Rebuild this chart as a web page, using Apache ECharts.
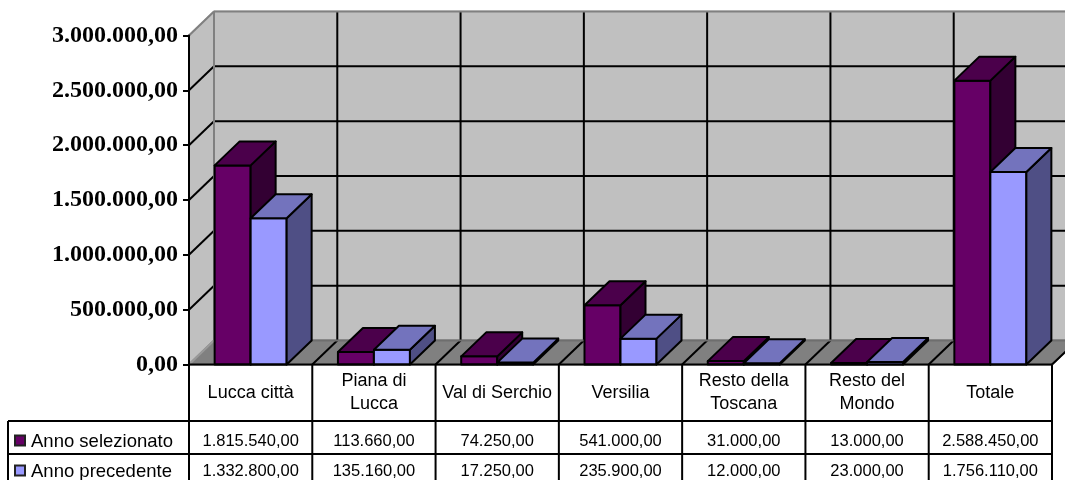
<!DOCTYPE html>
<html><head><meta charset="utf-8">
<style>html,body{margin:0;padding:0;background:#fff;overflow:hidden}#c{width:1065px;height:480px}</style>
<script src="https://cdn.jsdelivr.net/npm/echarts@6/dist/echarts.min.js"></script>
</head><body><div id="c"></div>
<script>
const categories = ['Lucca città','Piana di\nLucca','Val di Serchio','Versilia','Resto della\nToscana','Resto del\nMondo','Totale'];
const annoSelezionato = [1815540,113660,74250,541000,31000,13000,2588450];
const annoPrecedente = [1332800,135160,17250,235900,12000,23000,1756110];
const seriesNames = ['Anno selezionato','Anno precedente'];
const tickValues = [0,500000,1000000,1500000,2000000,2500000,3000000];

const fmt = v => v.toFixed(2).replace('.',',').replace(/\B(?=(\d{3})+(?!\d))/g,'.');
const DX = 25, DY = -24;
const palette = [
  {front:'#660066', top:'#4b004b', side:'#330033'},
  {front:'#9999ff', top:'#7373bd', side:'#4f4f85'}
];
const SANS_FAMILY = '"Liberation Sans", Arial, sans-serif';
const line = (x1,y1,x2,y2,stroke,w) => ({type:'line',shape:{x1,y1,x2,y2},style:{stroke,lineWidth:w||2}});
const poly = (pts,fill,stroke) => ({type:'polygon',shape:{points:pts},style:{fill,stroke:stroke||'#000',lineWidth:2,lineJoin:'round'}});
const text = (t,x,y,align,size) => ({type:'text',style:{text:t,x,y,fill:'#000',font:(size||16.5)+'px '+SANS_FAMILY,align:align||'center',verticalAlign:'middle'}});

function renderScene(params, api){
  const o = api.coord([0,0]), w = api.size([1,0])[0];
  const x0 = o[0]-w/2, y0 = o[1], n = categories.length;
  const x1 = x0+w*n, yT = api.coord([0,3000000])[1];
  const kids = [];
  kids.push(poly([[x0,y0],[x0+DX,y0+DY],[x0+DX,yT+DY],[x0,yT]],'#c0c0c0','#c0c0c0'));
  kids.push(poly([[x0+DX,y0+DY],[x1+DX,y0+DY],[x1+DX,yT+DY],[x0+DX,yT+DY]],'#c0c0c0','#c0c0c0'));
  kids.push(poly([[x0,y0],[x1,y0],[x1+DX,y0+DY],[x0+DX,y0+DY]],'#808080','#808080'));
  tickValues.forEach(v=>{
    const y = api.coord([0,v])[1];
    if(v>0 && v<3000000){
      kids.push(line(x0+DX,y+DY,x1+DX,y+DY,'#000'));
      kids.push(line(x0,y,x0+DX,y+DY,'#000'));
    }
  });
  for(let i=1;i<=n;i++){
    const x = x0+w*i;
    if(i<n) kids.push(line(x+DX,yT+DY,x+DX,y0+DY,'#000'));
    kids.push(line(x,y0,x+DX,y0+DY,'#000'));
  }
  kids.push(line(x0+DX,yT+DY,x1+DX,yT+DY,'#808080'));
  kids.push(line(x0+DX,yT+DY,x0+DX,y0+DY,'#808080'));
  kids.push(line(x0,yT,x0+DX,yT+DY,'#808080'));
  kids.push(line(x0,y0,x0+DX,y0+DY,'#999999'));
  kids.push(line(x0+DX,y0+DY,x1+DX,y0+DY,'#6e6e6e'));
  return {type:'group',children:kids};
}

function makeBar(seriesIdx){
  return function(params, api){
    const c = api.coord([api.value(0),0]), t = api.coord([api.value(0),api.value(1)]);
    const W = api.size([1,0])[0]*0.292;
    const xa = seriesIdx===0 ? c[0]-W : c[0], xb = xa+W;
    const yb = c[1], yt = t[1], p = palette[seriesIdx];
    return {type:'group',children:[
      poly([[xa,yb],[xb,yb],[xb,yt],[xa,yt]],p.front),
      poly([[xb,yb],[xb+DX,yb+DY],[xb+DX,yt+DY],[xb,yt]],p.side),
      poly([[xa,yt],[xb,yt],[xb+DX,yt+DY],[xa+DX,yt+DY]],p.top)
    ]};
  };
}

function renderTable(params, api){
  const o = api.coord([0,0]), w = api.size([1,0])[0];
  const x0 = o[0]-w/2, n = categories.length, x1 = x0+w*n;
  const kids = [];
  const LEFT = 8, R1 = 421, R2 = 454, END = 490;
  for(let i=0;i<=n;i++){ kids.push(line(x0+w*i,o[1],x0+w*i,END,'#000')); }
  kids.push(line(x0,o[1],x1,o[1],'#000'));
  kids.push(line(LEFT,R1,x1,R1,'#000'));
  kids.push(line(LEFT,R2,x1,R2,'#000'));
  kids.push(line(LEFT,R1,LEFT,END,'#000'));
  [annoSelezionato,annoPrecedente].forEach((arr,r)=>{
    const cy = r===0 ? 441 : 471;
    kids.push({type:'rect',shape:{x:15,y:cy-5.5,width:10,height:10},style:{fill:palette[r].front,stroke:'#222',lineWidth:2}});
    kids.push(text(seriesNames[r],31,cy+1,'left',18.5));
    arr.forEach((v,i)=>kids.push(text(fmt(v),x0+w*(i+0.5),cy)));
  });
  return {type:'group',children:kids};
}

const chart = echarts.init(document.getElementById('c'),null,{renderer:'canvas'});
chart.setOption({
  animation:false,
  backgroundColor:'#fff',
  grid:{left:189,right:13,top:35.5,height:329,containLabel:false},
  xAxis:{type:'category',data:categories,boundaryGap:true,
    axisLine:{show:false},axisTick:{show:false},
    axisLabel:{interval:0,color:'#000',fontSize:18,fontFamily:SANS_FAMILY,lineHeight:23,margin:28.5,verticalAlign:'middle'},
    z:5},
  yAxis:{type:'value',min:0,max:3000000,interval:500000,
    axisLine:{show:true,lineStyle:{color:'#000',width:2}},
    axisTick:{show:true,length:6,lineStyle:{color:'#000',width:2}},
    splitLine:{show:false},
    axisLabel:{color:'#000',fontFamily:'"Liberation Serif","Times New Roman",serif',fontWeight:'bold',fontSize:24,margin:11,padding:[3,0,0,0],formatter:v=>fmt(v)},
    z:1},
  series:[
    {type:'custom',name:'scene',silent:true,z:-1,data:[[0,0]],encode:{x:0,y:1},renderItem:renderScene},
    {type:'custom',name:seriesNames[0],silent:true,z:2,data:annoSelezionato.map((v,i)=>[i,v]),encode:{x:0,y:1},renderItem:makeBar(0)},
    {type:'custom',name:seriesNames[1],silent:true,z:3,data:annoPrecedente.map((v,i)=>[i,v]),encode:{x:0,y:1},renderItem:makeBar(1)},
    {type:'custom',name:'table',silent:true,z:4,data:[[0,0]],encode:{x:0,y:1},renderItem:renderTable}
  ]
});
</script></body></html>
